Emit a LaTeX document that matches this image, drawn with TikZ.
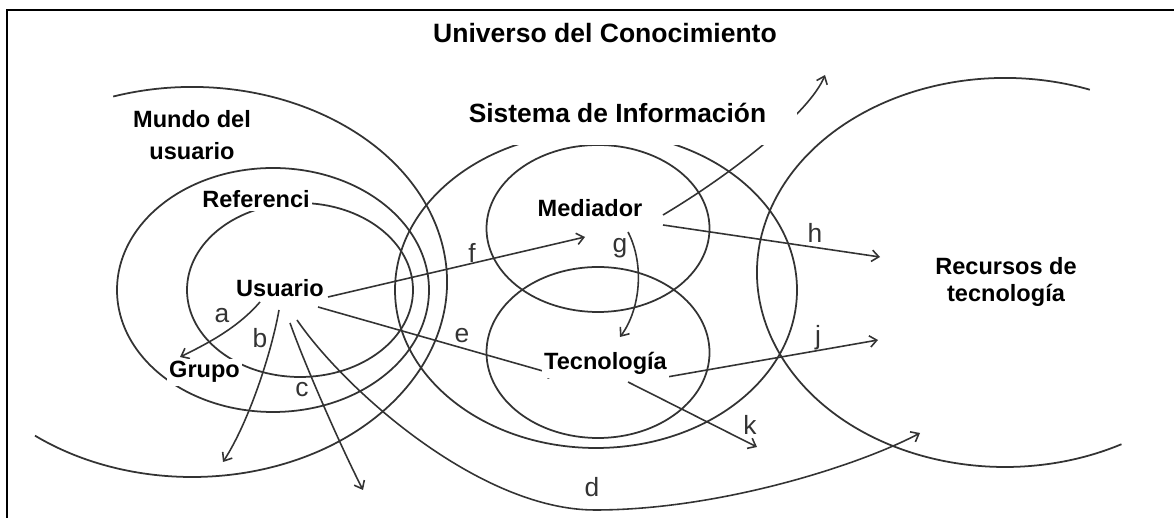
\documentclass[tikz,border=0pt]{standalone}
\usepackage{fontspec}
\setmainfont{Liberation Sans}
\usetikzlibrary{arrows.meta}
\definecolor{pencil}{gray}{0.2}

\begin{document}
\begin{tikzpicture}[x=0.2mm, y=0.2mm,
  ring/.style={draw=pencil, line width=1pt},
  ray/.style={draw=pencil, line width=0.9pt, -{Straight Barb[length=4pt,width=6.5pt]}},
  lbl/.style={fill=white, inner sep=1.5pt, font=\bfseries\fontsize{13.4}{18.1}\selectfont},
  ltr/.style={text=pencil, inner sep=0pt, anchor=base, font=\fontsize{15}{17}\selectfont}]
\useasboundingbox (0,0) rectangle (1174,518);
% \draw [help lines,color=green] (0,0) grid[step=50] (1174,518);
%%%%%%%%%
\draw [line width=1.4pt] (7,0) -- (7,508) -- (1174,508);
%%%%%%%%% rings
\draw [ring] (192,236) ++(108:255 and 195) arc[start angle=108, end angle=-128, x radius=255, y radius=195];
\draw [ring] (273,228) ellipse[x radius=156, y radius=122];
\draw [ring] (300,228) ellipse[x radius=113, y radius=87];
\draw [ring] (596,228) ellipse[x radius=201, y radius=158];
\draw [ring] (598,289.5) ellipse[x radius=111.5, y radius=83.5];
\draw [ring] (598,165.5) ellipse[x radius=111.5, y radius=85.5];
\draw [ring] (1005,245.5) ++(70:248 and 194.5) arc[start angle=70, end angle=298, x radius=248, y radius=194.5];
%%%%%%%%% arrow ends
\coordinate (A0) at (260,216);
\coordinate (A1) at (180,161);
\coordinate (B0) at (279,208);
\coordinate (B1) at (223,56);
\coordinate (C0) at (290,195);
\coordinate (C1) at (363,28);
\coordinate (D0) at (297,198);
\coordinate (D1) at (595,8);
\coordinate (D2) at (920,85);
\coordinate (E0) at (318,211);
\coordinate (E1) at (557,143);
\coordinate (F0) at (328,221);
\coordinate (F1) at (585,281);
\coordinate (G0) at (628,286);
\coordinate (G1) at (620,181);
\coordinate (H0) at (663,293);
\coordinate (H1) at (880,261);
\coordinate (I0) at (663,303);
\coordinate (I1) at (825,443);
\coordinate (J0) at (667,141);
\coordinate (J1) at (878,178);
\coordinate (K0) at (628,136);
\coordinate (K1) at (757,71);
%%%%%%%%% arrows
\draw [ray] (A0) .. controls (240,193) and (215,178) .. (A1);
\draw [ray] (B0) .. controls (272,168) and (250,98) .. (B1);
\draw [ray] (C0) .. controls (305,153) and (340,73) .. (C1);
\draw [ray] (D0) .. controls (345,128) and (480,8) .. (D1) .. controls (720,8) and (860,53) .. (D2);
\draw [ray] (E0) -- (E1);
\draw [ray] (F0) -- (F1);
\draw [ray] (G0) .. controls (645,253) and (640,208) .. (G1);
\draw [ray] (H0) -- (H1);
\draw [ray] (I0) .. controls (735,346) and (810,406) .. (I1);
\draw [ray] (J0) -- (J1);
\draw [ray] (K0) -- (K1);
\node [ltr] (a) at (222,195) {a};
\node [ltr] (b) at (260,170) {b};
\node [ltr] (c) at (302,121) {c};
\node [ltr] (d) at (592,21) {d};
\node [ltr] (e) at (462,175) {e};
\node [ltr] (f) at (472,255) {f};
\node [ltr] (g) at (620,265) {g};
\node [ltr] (h) at (815,275) {h};
\node [ltr] (j) at (818,173) {j};
\node [ltr] (k) at (750,83) {k};
%%%%%%%%% labels
\node [lbl, anchor=base, font=\bfseries\fontsize{15.1}{18}\selectfont] (Univ) at (605,475) {Universo del Conocimiento};
\node [lbl, align=center] (Mundo) at (192,382.7) {Mundo del\\usuario};
\node [lbl, anchor=base] (Ref) at (256,310) {Referenci};
\node [lbl, anchor=base] (Usu) at (280,221) {Usuario};
\node [lbl, anchor=base] (Grp) at (204.5,140) {Grupo};
\node [lbl, anchor=base, inner xsep=17.6pt, inner ysep=12.5pt, font=\bfseries\fontsize{15}{18}\selectfont] (SI) at (617.5,395) {Sistema de Información};
\node [lbl, anchor=base] (Med) at (590,301) {Mediador};
\node [lbl, anchor=base] (Tec) at (605.5,148) {Tecnología};
\node [lbl, align=center, font=\bfseries\fontsize{13.4}{15.3}\selectfont] (Rec) at (1006,235.6) {Recursos de\\tecnología};
\end{tikzpicture}
\end{document}
